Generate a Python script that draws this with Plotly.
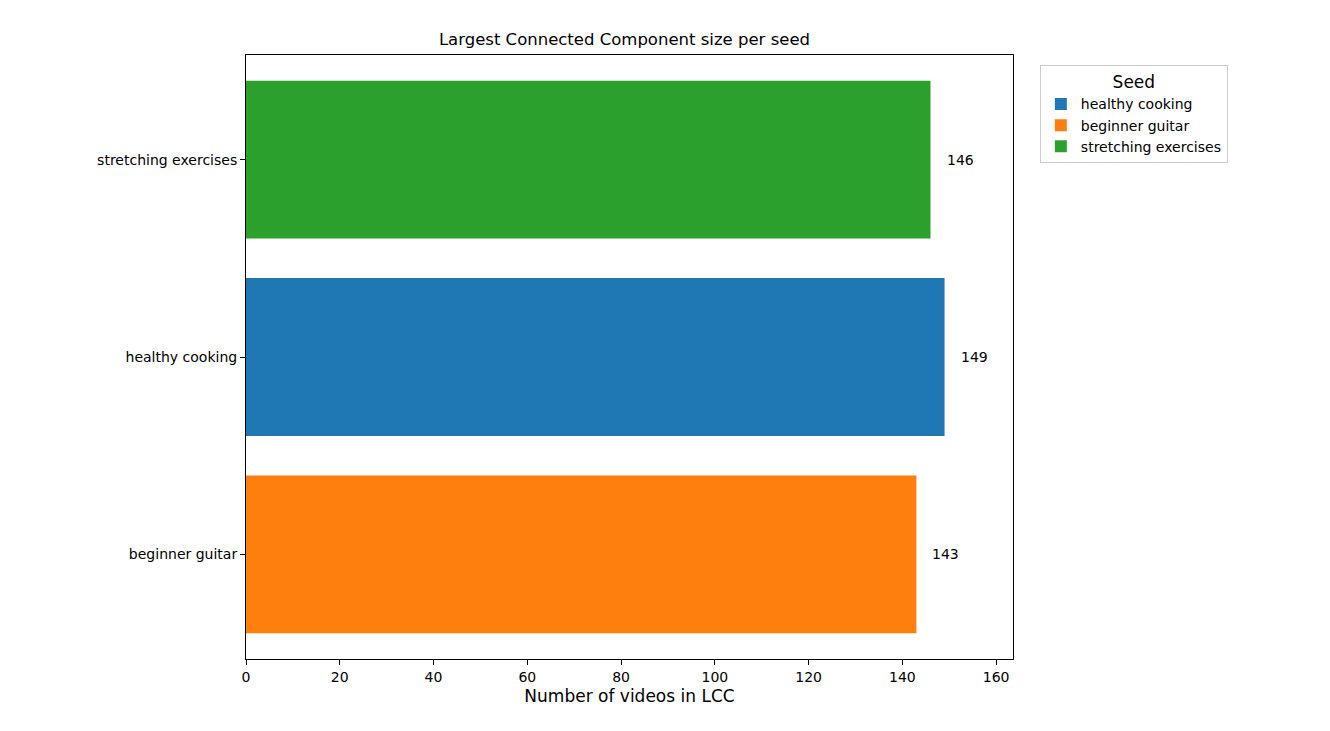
import plotly.graph_objects as go

seeds = ["healthy cooking", "beginner guitar", "stretching exercises"]
lcc_sizes = [149, 143, 146]
colors = ["#1f77b4", "#ff7f0e", "#2ca02c"]
y_order = ["beginner guitar", "healthy cooking", "stretching exercises"]
x_ticks = [0, 20, 40, 60, 80, 100, 120, 140, 160]

fig = go.Figure()
for seed, size, color in zip(seeds, lcc_sizes, colors):
    fig.add_trace(go.Bar(
        x=[size], y=[seed], orientation="h", name=seed,
        marker=dict(color=color, line=dict(width=0)), width=0.8,
    ))
    fig.add_annotation(x=size + 3, y=seed, text=str(size), showarrow=False,
                       xanchor="left", font=dict(size=14, color="black"))

axis_style = dict(showline=True, linecolor="black", linewidth=1, mirror=True,
                  ticks="outside", ticklen=5, tickcolor="black", showgrid=False,
                  zeroline=False, tickfont=dict(size=14, color="black"))

fig.update_layout(
    width=1330, height=731,
    font=dict(family="DejaVu Sans", size=14, color="black"),
    title=dict(text="Largest Connected Component size per seed", x=0.4635,
               xanchor="center", y=0.965, font=dict(size=16.5)),
    barmode="overlay",
    plot_bgcolor="white", paper_bgcolor="white",
    margin=dict(l=238, r=325, t=47, b=80),
    xaxis=dict(range=[0, 163.6], tickvals=x_ticks,
               title=dict(text="Number of videos in LCC", standoff=6), **axis_style),
    yaxis=dict(range=[-0.53, 2.53], categoryorder="array", categoryarray=y_order,
               **axis_style),
    legend=dict(x=1.035, y=0.983, xanchor="left", yanchor="top",
                title=dict(text="Seed", side="top center"),
                bordercolor="#cccccc", borderwidth=1, traceorder="normal",
                font=dict(size=14)),
)

fig.write_html("out.html")
